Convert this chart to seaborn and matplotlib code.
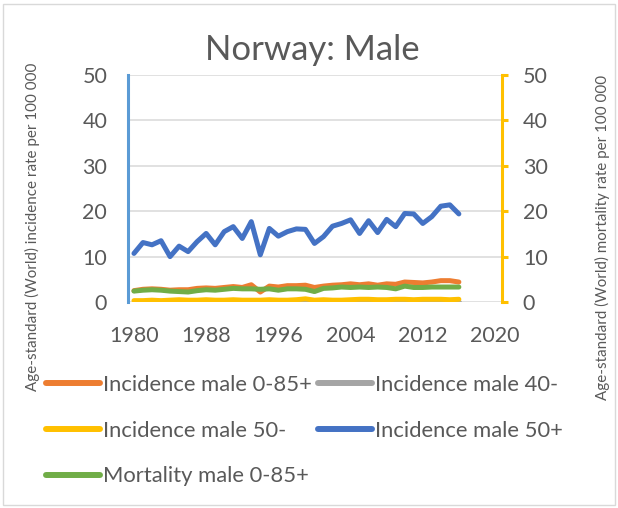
import matplotlib
matplotlib.use("Agg")
import matplotlib.pyplot as plt
import seaborn as sns
import numpy as np
import pandas as pd
from matplotlib.patches import Rectangle
from matplotlib.lines import Line2D

years = list(range(1980, 2017))

inc_0_85 = [2.5, 2.8, 2.9, 2.8, 2.6, 2.7, 2.7, 3.0, 3.1, 3.0, 3.2, 3.4, 3.2, 3.8, 2.2, 3.5, 3.3,
            3.6, 3.6, 3.7, 3.2, 3.5, 3.7, 3.8, 4.0, 3.8, 4.0, 3.7, 4.0, 3.9, 4.4, 4.3, 4.2, 4.4,
            4.7, 4.7, 4.4]
inc_40m = [0.1, 0.1, 0.1, 0.1, 0.1, 0.1, 0.1, 0.1, 0.1, 0.1, 0.1, 0.1, 0.1, 0.1, 0.1, 0.1, 0.1,
           0.1, 0.1, 0.1, 0.1, 0.1, 0.1, 0.1, 0.1, 0.1, 0.1, 0.1, 0.1, 0.1, 0.1, 0.1, 0.1, 0.1,
           0.1, 0.1, 0.1]
inc_50m = [0.3, 0.3, 0.4, 0.3, 0.4, 0.5, 0.4, 0.4, 0.5, 0.4, 0.4, 0.5, 0.4, 0.4, 0.4, 0.5, 0.4,
           0.4, 0.5, 0.7, 0.4, 0.5, 0.4, 0.4, 0.5, 0.6, 0.6, 0.5, 0.5, 0.6, 0.6, 0.5, 0.6, 0.6,
           0.6, 0.5, 0.6]
inc_50p = [10.7, 13.1, 12.6, 13.5, 10.0, 12.3, 11.1, 13.3, 15.1, 12.6, 15.5, 16.6, 14.0, 17.7,
           10.4, 16.2, 14.5, 15.5, 16.1, 16.0, 12.9, 14.4, 16.7, 17.3, 18.1, 15.1, 17.9, 15.3,
           18.2, 16.6, 19.5, 19.4, 17.3, 18.8, 21.1, 21.4, 19.4]
mort_0_85 = [2.4, 2.6, 2.7, 2.6, 2.4, 2.3, 2.2, 2.5, 2.7, 2.6, 2.8, 3.0, 2.9, 2.9, 2.8, 2.9, 2.6,
             2.9, 2.9, 2.8, 2.3, 3.0, 3.1, 3.3, 3.2, 3.3, 3.2, 3.3, 3.2, 2.9, 3.5, 3.2, 3.2, 3.3,
             3.3, 3.3, 3.3]

labels = ["Incidence male 0-85+", "Incidence male 40-", "Incidence male 50-",
          "Incidence male 50+", "Mortality male 0-85+"]
colors = ["#ED7D31", "#A5A5A5", "#FFC000", "#4472C4", "#70AD47"]
xticks = [1980, 1988, 1996, 2004, 2012, 2020]
yticks = [0, 10, 20, 30, 40, 50]
title = "Norway: Male"
ylabel_left = "Age-standard (World) incidence rate per 100 000"
ylabel_right = "Age-standard (World) mortality rate per 100 000"

sns.set_theme(style="white")
plt.rcParams["font.family"] = ["Lato", "DejaVu Sans"]
TXT = "#595959"

W, H = 618, 508
fig = plt.figure(figsize=(W / 100, H / 100), dpi=100)
fig.patch.set_facecolor("white")

def fx(px):
    return px / W

def fy(py):
    return 1 - py / H

L, R, T, B = 128, 502, 75, 302
ax = fig.add_axes([fx(L), fy(B), fx(R) - fx(L), fy(T) - fy(B)])
ax2 = ax.twinx()

LW = 3.6
series = [inc_0_85, inc_40m, inc_50m, inc_50p]
for vals, col in zip(series, colors[:4]):
    sns.lineplot(x=years, y=vals, ax=ax, color=col, linewidth=LW, legend=False,
                 solid_capstyle="round", solid_joinstyle="round")
sns.lineplot(x=years, y=mort_0_85, ax=ax2, color=colors[4], linewidth=LW, legend=False,
             solid_capstyle="round", solid_joinstyle="round")

for a in (ax, ax2):
    a.set_xlim(1979.34, 2020.78)
    a.set_ylim(0, 50)
    a.set_yticks(yticks)
    a.set_xlabel("")
    a.set_ylabel("")
    for s in a.spines.values():
        s.set_visible(False)

ax.grid(axis="y", color="#D9D9D9", linewidth=1.1)
ax.grid(axis="x", visible=False)
ax.set_axisbelow(True)
ax.spines["left"].set_visible(True)
ax.spines["left"].set_color("#5B9BD5")
ax.spines["left"].set_linewidth(2.2)
ax.set_xticks(xticks)
ax.set_xticklabels([str(x) for x in xticks])
ax.tick_params(axis="y", length=0, pad=15, labelsize=15.5, labelcolor=TXT)
ax.tick_params(axis="x", length=0, pad=17, labelsize=15.5, labelcolor=TXT)

ax2.spines["right"].set_visible(True)
ax2.spines["right"].set_color("#FFC000")
ax2.spines["right"].set_linewidth(2.2)
ax2.tick_params(axis="y", right=True, direction="out", length=4, width=2.2, color="#FFC000",
                pad=11, labelsize=15.5, labelcolor=TXT)
ax2.tick_params(axis="x", length=0)

fig.text(fx(312), fy(60), title, ha="center", va="baseline", fontsize=25, color=TXT)
fig.text(fx(32), fy(227), ylabel_left, rotation=90, ha="center", va="center",
         fontsize=10.9, color=TXT)
fig.text(fx(602), fy(237), ylabel_right, rotation=90, ha="center", va="center",
         fontsize=10.9, color=TXT)

hs = [Line2D([0], [0], color=c, linewidth=4.3, solid_capstyle="round") for c in colors]
leg_kw = dict(frameon=False, fontsize=15.8, handlelength=2.45, handletextpad=0.17,
              labelspacing=1.17, borderpad=0, borderaxespad=0, labelcolor=TXT)
leg1 = fig.legend([hs[0], hs[2], hs[4]], [labels[0], labels[2], labels[4]],
                  loc="upper left", bbox_to_anchor=(fx(46), fy(375)), **leg_kw)
leg2 = fig.legend([hs[1], hs[3]], [labels[1], labels[3]],
                  loc="upper left", bbox_to_anchor=(fx(318), fy(375)), **leg_kw)

fig.patches.append(Rectangle((fx(3), fy(505)), fx(612), fy(4) - fy(505), transform=fig.transFigure,
                             fill=False, edgecolor="#D9D9D9", linewidth=1.0))

fig.savefig("out.png", dpi=100, facecolor="white")
